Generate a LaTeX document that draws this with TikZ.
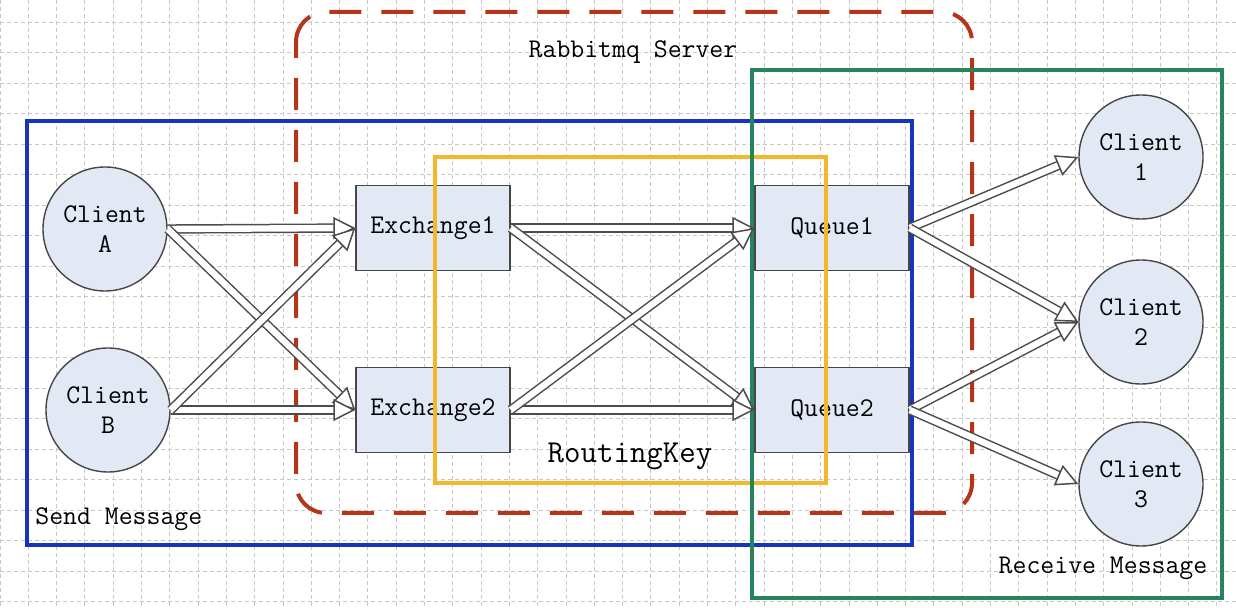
\documentclass[tikz,border=0pt]{standalone}
\usetikzlibrary{arrows.meta}
\definecolor{fblue}{RGB}{22,52,190}
\definecolor{fgreen}{RGB}{38,132,92}
\definecolor{forange}{RGB}{246,182,44}
\definecolor{fred}{RGB}{182,52,26}
\definecolor{nfill}{RGB}{226,233,244}
\definecolor{nline}{RGB}{70,70,70}
\definecolor{gridc}{RGB}{200,200,200}
\begin{document}
\begin{tikzpicture}[x=0.5pt,y=-0.5pt,
  gridline/.style={draw=gridc,line width=0.45pt,dash pattern=on 2pt off 1.5pt},
  txt/.style={font=\fontsize{13.5}{15}\selectfont\ttfamily,text=black,inner sep=0pt},
  client/.style={circle,draw=nline,fill=nfill,line width=0.7pt,minimum size=62pt,inner sep=0pt,align=center,font=\fontsize{13.5}{15}\selectfont\ttfamily,text=black},
  box/.style={rectangle,draw=nline,fill=nfill,line width=0.7pt,minimum width=77pt,minimum height=42.5pt,inner sep=0pt,font=\fontsize{13.5}{15}\selectfont\ttfamily,text=black},
  arr/.style={draw=black!70,double=white,double distance=3.2pt,line width=0.75pt,
    -{Triangle[open,fill=white,length=11pt,width=11pt]}},
  frame/.style={line width=1.6pt}
]
\useasboundingbox (0,0) rectangle (1236,608);
\fill[white] (0,0) rectangle (1236,608);
% grid
\foreach \i in {0,...,43} \draw[gridline] (28.3*\i,0) -- (28.3*\i,608);
\foreach \j in {0,...,19} \draw[gridline] (0,22+30.5*\j) -- (1236,22+30.5*\j);
% nodes
\node[client] (ca) at (105,229) {Client\\A};
\node[client] (cb) at (108,410) {Client\\B};
\node[client] (c1) at (1141,157) {Client\\1};
\node[client] (c2) at (1141,322) {Client\\2};
\node[client] (c3) at (1141,484) {Client\\3};
\node[box] (e1) at (433,228) {Exchange1};
\node[box] (e2) at (433,410) {Exchange2};
\node[box] (q1) at (832,228) {Queue1};
\node[box] (q2) at (832,410) {Queue2};
% frames
\draw[frame,draw=fred,line width=2pt,rounded corners=15pt,dash pattern=on 16pt off 10pt,dash phase=8pt] (296,12) rectangle (972,513);
\draw[frame,draw=fblue] (27,121) rectangle (912,545);
\draw[frame,draw=forange] (435,157) rectangle (826,483);
\draw[frame,draw=fgreen] (752,70) rectangle (1222,598);
% arrows
\draw[arr] (ca.east) -- (e1.west);
\draw[arr] (ca.east) -- (e2.west);
\draw[arr] (cb.east) -- (e2.west);
\draw[arr] (cb.east) -- (e1.west);
\draw[arr] (e1.east) -- (q1.west);
\draw[arr] (e1.east) -- (q2.west);
\draw[arr] (e2.east) -- (q2.west);
\draw[arr] (e2.east) -- (q1.west);
\draw[arr] (q1.east) -- (c1.west);
\draw[arr] (q1.east) -- (c2.west);
\draw[arr] (q2.east) -- (c2.west);
\draw[arr] (q2.east) -- (c3.west);
% labels
\node[txt] (rs) at (633,52) {Rabbitmq Server};
\node[txt,font=\fontsize{16}{18}\selectfont\ttfamily] (rk) at (630,456) {RoutingKey};
\node[txt,anchor=west] (sm) at (35,519) {Send Message};
\node[txt] (rm) at (1103,568) {Receive Message};
\end{tikzpicture}
\end{document}
